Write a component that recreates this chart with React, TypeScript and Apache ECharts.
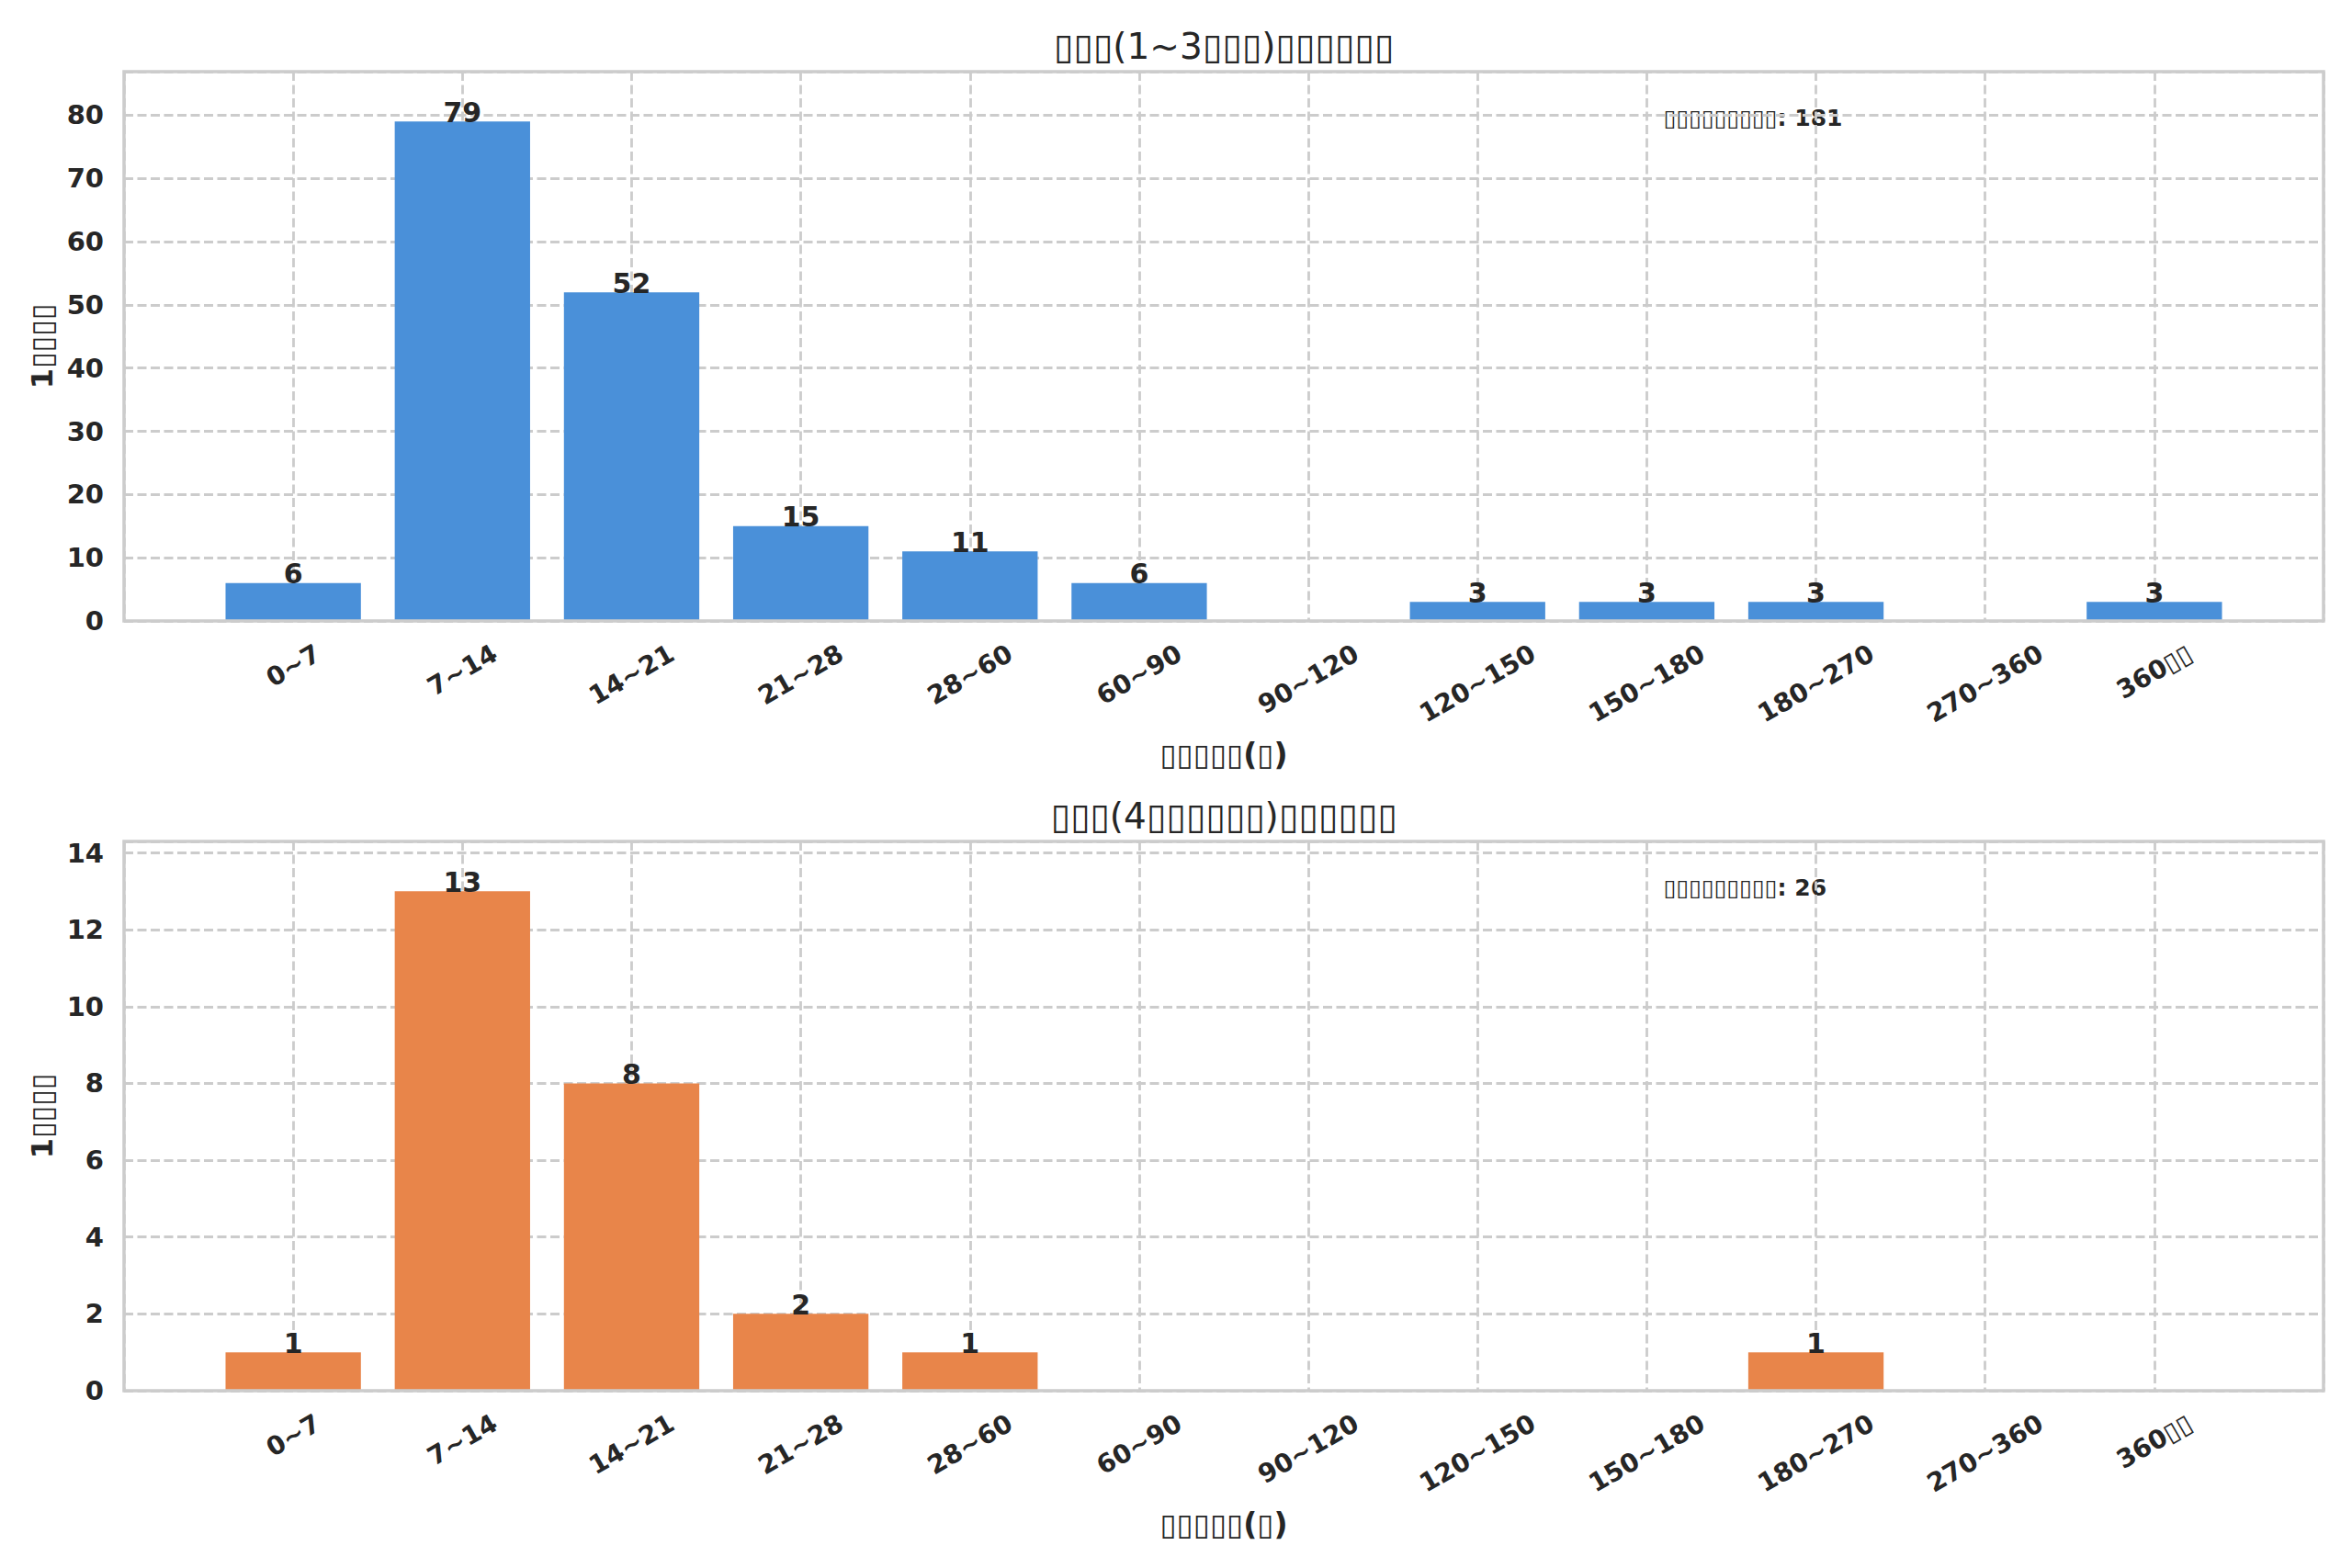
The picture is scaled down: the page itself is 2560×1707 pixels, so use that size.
import React, { useEffect, useRef } from 'react';
import * as echarts from 'echarts';

// ---------- data ----------
const CATEGORIES = ['0~7', '7~14', '14~21', '21~28', '28~60', '60~90', '90~120', '120~150', '150~180', '180~270', '270~360', '360▯▯'];
const SHORT_CYCLE_COUNTS = [6, 79, 52, 15, 11, 6, 0, 3, 3, 3, 0, 3];
const LONG_CYCLE_COUNTS = [1, 13, 8, 2, 1, 0, 0, 0, 0, 1, 0, 0];
const TOP_TITLE = '▯▯▯(1~3▯▯▯)▯▯▯▯▯▯';
const BOTTOM_TITLE = '▯▯▯(4▯▯▯▯▯▯)▯▯▯▯▯▯';
const X_NAME = '▯▯▯▯▯(▯)';
const Y_NAME = '1▯▯▯▯';
const NOTE_LABEL = '▯▯▯▯▯▯▯▯▯';
const TOP_TOTAL = 181;
const BOTTOM_TOTAL = 26;
const TOP_Y_INTERVAL = 10;
const BOTTOM_Y_INTERVAL = 2;

// ---------- layout / style ----------
const W = 2560;
const H = 1707;
const GRID_LEFT = 135;
const GRID_W = 2394;
const GRID_H = 598;
const GRID_TOPS = [78, 916];
const FONT = '"DejaVu Sans", sans-serif';
const TEXT = '#262626';
const GRID_COLOR = '#cccccc';
const COLORS = ['#4a90d9', '#e8854a'];
const TICK_FONT = 28;
const XLABEL_MARGIN = 33;

function measure(text: string, font: string): number {
  const c = document.createElement('canvas').getContext('2d');
  if (!c) return text.length * 16;
  c.font = font;
  return c.measureText(text).width;
}

function buildRich() {
  const rich: Record<string, any> = {};
  CATEGORIES.forEach((t, i) => {
    const w = measure(t, `bold ${TICK_FONT}px ${FONT}`);
    const d = w / 4;
    rich['l' + i] = {
      fontSize: TICK_FONT,
      fontWeight: 'bold',
      fontFamily: FONT,
      color: TEXT,
      padding: [1.732 * d, d, 0, 0],
    };
  });
  return rich;
}

export default function App() {
  const ref = useRef<HTMLDivElement>(null);
  useEffect(() => {
    if (!ref.current) return;
    const chart = echarts.init(ref.current, undefined, { renderer: 'svg' });
    const rich = buildRich();
    const n = CATEGORIES.length;
    const datasets = [SHORT_CYCLE_COUNTS, LONG_CYCLE_COUNTS];
    const intervals = [TOP_Y_INTERVAL, BOTTOM_Y_INTERVAL];
    const titles = [TOP_TITLE, BOTTOM_TITLE];
    const totals = [TOP_TOTAL, BOTTOM_TOTAL];
    const barW = (GRID_W / (n + 1)) * 0.8;

    const splitLine = { show: true, lineStyle: { color: GRID_COLOR, width: 2.8, type: [10, 4.5] } };

    const option: any = {
      animation: false,
      backgroundColor: '#ffffff',
      textStyle: { fontFamily: FONT, color: TEXT },
      grid: GRID_TOPS.map((top) => ({
        left: GRID_LEFT,
        top,
        width: GRID_W,
        height: GRID_H,
        show: true,
        borderColor: GRID_COLOR,
        borderWidth: 3.5,
        backgroundColor: 'transparent',
        z: 3,
      })),
      xAxis: GRID_TOPS.map((_, g) => ({
        type: 'value',
        gridIndex: g,
        min: -1,
        max: n,
        interval: 1,
        name: X_NAME,
        nameLocation: 'middle',
        nameGap: 129,
        nameTextStyle: { fontSize: 33, fontWeight: 'bold', color: TEXT, fontFamily: FONT },
        axisLine: { show: false },
        axisTick: { show: false },
        splitLine,
        axisLabel: {
          rotate: 30,
          margin: XLABEL_MARGIN,
          align: 'center',
          verticalAlign: 'middle',
          fontSize: TICK_FONT,
          fontWeight: 'bold',
          color: TEXT,
          fontFamily: FONT,
          showMinLabel: true,
          showMaxLabel: true,
          formatter: (v: number) => {
            const i = Math.round(v);
            if (i < 0 || i >= n) return '';
            return `{l${i}|${CATEGORIES[i]}}`;
          },
          rich,
        },
      })),
      yAxis: GRID_TOPS.map((_, g) => {
        const iv = intervals[g];
        return {
          type: 'value',
          gridIndex: g,
          min: 0,
          max: Math.max(...datasets[g]) * 1.1,
          interval: iv,
          name: Y_NAME,
          nameLocation: 'middle',
          nameGap: 70,
          nameRotate: 90,
          nameTextStyle: { fontSize: 32, fontWeight: 'bold', color: TEXT, fontFamily: FONT },
          axisLine: { show: false },
          axisTick: { show: false },
          splitLine,
          axisLabel: {
            margin: 22,
            fontSize: 29,
            fontWeight: 'bold',
            color: TEXT,
            fontFamily: FONT,
            formatter: (v: number) => {
              const r = v / iv;
              return Math.abs(r - Math.round(r)) < 1e-6 ? String(Math.round(v)) : '';
            },
          },
        };
      }),
      series: datasets.map((vals, g) => ({
        type: 'bar',
        xAxisIndex: g,
        yAxisIndex: g,
        barWidth: barW,
        data: vals.map((v, i) => [i, v]),
        itemStyle: { color: COLORS[g] },
        label: {
          show: true,
          position: 'top',
          distance: -5,
          fontSize: 30,
          fontWeight: 'bold',
          color: TEXT,
          fontFamily: FONT,
          formatter: (p: any) => (p.value[1] > 0 ? String(p.value[1]) : ''),
        },
      })),
      graphic: [
        ...GRID_TOPS.map((top, g) => ({
          type: 'text',
          x: GRID_LEFT + GRID_W / 2,
          y: top - 28,
          style: {
            text: titles[g],
            fontSize: 39,
            fontFamily: FONT,
            fill: TEXT,
            align: 'center',
            verticalAlign: 'middle',
          },
        })),
        ...GRID_TOPS.map((top, g) => ({
          type: 'text',
          x: GRID_LEFT + GRID_W * 0.7,
          y: top + GRID_H * 0.05 + 21,
          style: {
            text: `${NOTE_LABEL}: ${totals[g]}`,
            fontSize: 25,
            fontWeight: 'bold',
            fontFamily: FONT,
            fill: TEXT,
            align: 'left',
            verticalAlign: 'middle',
          },
        })),
      ],
    };
    chart.setOption(option);
    return () => chart.dispose();
  }, []);
  return (
    <div
      ref={ref}
      style={{ position: 'absolute', left: 0, top: 0, width: W, height: H, background: '#ffffff' }}
    />
  );
}
